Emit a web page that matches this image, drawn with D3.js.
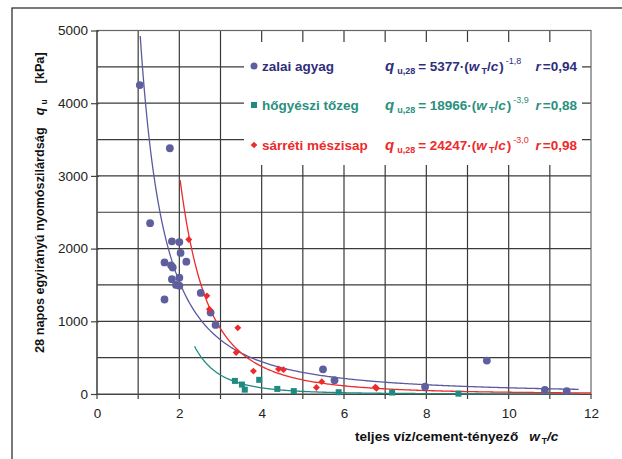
<!DOCTYPE html>
<html><head><meta charset="utf-8">
<script src="https://cdn.jsdelivr.net/npm/d3@7"></script>
<style>
body{margin:0;background:#fff;}
text{font-family:"Liberation Sans",Arial,sans-serif;}
</style></head>
<body><svg id="c" width="622" height="459"></svg>
<script>
// ---- data ----
const xTicks = [0,2,4,6,8,10,12];
const yTicks = [0,1000,2000,3000,4000,5000];
const zalaiX = [1.04,1.77,1.29,1.82,2.00,2.03,2.17,1.64,1.80,1.84,1.82,2.00,1.92,2.00,1.64,2.52,2.76,2.88,5.49,5.77,7.97,9.47,10.88,11.41];
const zalaiY = [4250,3380,2350,2100,2090,1940,1820,1810,1770,1740,1580,1600,1500,1490,1300,1390,1120,950,340,190,100,460,55,40];
const hogyX = [3.35,3.52,3.59,3.94,4.38,4.78,5.87,7.17,8.78];
const hogyY = [180,130,60,195,70,40,25,20,5];
const sarrX = [2.23,2.67,2.73,3.42,3.38,3.80,4.41,4.53,5.46,5.33,6.76,6.79];
const sarrY = [2125,1350,1165,910,570,315,345,335,170,90,92,78];
const seriesNames = ["zalai agyag","hőgyészi tőzeg","sárréti mészisap"];
const coefA = [5377,18966,24247];
const coefB = [-1.8,-3.9,-3.0];
const coefLabel = ["5377","18966","24247"];
const expLabel = ["-1,8","-3,9","-3,0"];
const rLabel = ["0,94","0,88","0,98"];
const curveFrom = [1.05,2.37,2.02];
const curveTo = [11.7,11.7,12];

const svg = d3.select("#c");
const x = d3.scaleLinear().domain([0,12]).range([97,591]);
const y = d3.scaleLinear().domain([0,5000]).range([394,30.5]);
const ptCol = ["#5f5f9e","#1f8a80","#ee2a2a"];
const lnCol = ["#5a5aa0","#1f8a80","#ee2a2a"];
const txtCol = ["#2e2e7c","#2a9080","#ee2a2a"];

// outer frame
svg.append("rect").attr("x",12).attr("y",8).attr("width",640).attr("height",480)
  .attr("fill","none").attr("stroke","#222").attr("stroke-width",1.2);

// grid
const g = svg.append("g");
g.selectAll(".vg").data(d3.range(1,12)).join("line")
  .attr("x1",d=>x(d)).attr("x2",d=>x(d)).attr("y1",y(0)+5).attr("y2",y(5000))
  .attr("stroke","#3a3a3a").attr("stroke-width",1.2);
g.selectAll(".hg").data(d3.range(500,5000,500)).join("line")
  .attr("x1",x(0)).attr("x2",x(12)).attr("y1",d=>y(d)).attr("y2",d=>y(d))
  .attr("stroke","#3a3a3a").attr("stroke-width",1.2);
g.selectAll(".xt").data([0,12]).join("line")
  .attr("x1",d=>x(d)).attr("x2",d=>x(d)).attr("y1",y(0)).attr("y2",y(0)+5)
  .attr("stroke","#444").attr("stroke-width",1.2);

// plot border
svg.append("rect").attr("x",x(0)).attr("y",y(5000)).attr("width",x(12)-x(0)).attr("height",y(0)-y(5000))
  .attr("fill","none").attr("stroke","#666").attr("stroke-width",1.2);

// axes
const xAxis = d3.axisBottom(x).tickValues(xTicks).tickSize(0).tickPadding(14).tickFormat(d3.format("d"));
const yAxis = d3.axisLeft(y).tickValues(yTicks).tickSize(8).tickPadding(3).tickFormat(d3.format("d"));
const ga = svg.append("g").attr("transform",`translate(0,${y(0)})`).call(xAxis);
ga.select(".domain").attr("stroke","#444").attr("stroke-width",1.2);
ga.selectAll("text").attr("font-size",13.5).attr("fill","#222").attr("font-family","Liberation Sans, Arial, sans-serif");
const gy = svg.append("g").attr("transform",`translate(${x(0)+2},0)`).call(yAxis);
gy.select(".domain").remove();
gy.selectAll("line").attr("stroke","#444").attr("stroke-width",1.2);
gy.selectAll("text").attr("font-size",13.5).attr("fill","#222").attr("font-family","Liberation Sans, Arial, sans-serif");
svg.append("line").attr("x1",x(0)).attr("x2",x(0)).attr("y1",y(0)).attr("y2",y(5000)).attr("stroke","#444").attr("stroke-width",1.2);

// legend white box
svg.append("rect").attr("x",244).attr("y",42).attr("width",338).attr("height",123).attr("fill","#fff");

// curves
const line = d3.line().x(d=>x(d[0])).y(d=>y(d[1])).curve(d3.curveLinear);
for(let i=0;i<3;i++){
  const pts = d3.range(0,301).map(k=>{const xv=curveFrom[i]+(curveTo[i]-curveFrom[i])*k/300; return [xv, coefA[i]*Math.pow(xv,coefB[i])];});
  svg.append("path").attr("d",line(pts)).attr("fill","none").attr("stroke",lnCol[i]).attr("stroke-width",1.3);
}

// points
svg.append("g").selectAll("circle").data(zalaiX.map((v,i)=>[v,zalaiY[i]])).join("circle")
  .attr("cx",d=>x(d[0])).attr("cy",d=>y(d[1])).attr("r",3.9).attr("fill",ptCol[0]);
svg.append("g").selectAll("rect").data(hogyX.map((v,i)=>[v,hogyY[i]])).join("rect")
  .attr("x",d=>x(d[0])-3).attr("y",d=>y(d[1])-3).attr("width",6).attr("height",6).attr("fill",ptCol[1]);
svg.append("g").selectAll("path").data(sarrX.map((v,i)=>[v,sarrY[i]])).join("path")
  .attr("d",d3.symbol(d3.symbolSquare,24)).attr("transform",d=>`translate(${x(d[0])},${y(d[1])}) rotate(45)`).attr("fill",ptCol[2]);

// legend
const rowY = [71,110,150];
const leg = svg.append("g").attr("font-weight","bold");
rowY.forEach((ry,i)=>{
  const mx=254, my=ry-5;
  if(i===0) leg.append("circle").attr("cx",mx).attr("cy",my).attr("r",3.5).attr("fill",ptCol[0]);
  if(i===1) leg.append("rect").attr("x",mx-3).attr("y",my-3).attr("width",6).attr("height",6).attr("fill",ptCol[1]);
  if(i===2) leg.append("path").attr("d",d3.symbol(d3.symbolSquare,22)).attr("transform",`translate(${mx},${my}) rotate(45)`).attr("fill",ptCol[2]);
  leg.append("text").attr("x",262).attr("y",ry).attr("font-size",13.5).attr("fill",txtCol[i]).text(seriesNames[i]);
  const t = leg.append("text").attr("x",385).attr("y",ry).attr("font-size",13.5).attr("fill",txtCol[i]);
  t.append("tspan").attr("font-style","italic").attr("font-size",15).text("q");
  t.append("tspan").attr("font-size",9).attr("dx",3).attr("dy",3).text("u,28");
  t.append("tspan").attr("dx",3).attr("dy",-3).text("= "+coefLabel[i]+"·(");
  t.append("tspan").attr("font-style","italic").text("w");
  t.append("tspan").attr("font-size",9).attr("dx",2).attr("dy",3).text("T");
  t.append("tspan").attr("dy",-3).text("/");
  t.append("tspan").attr("font-style","italic").text("c");
  t.append("tspan").attr("dx",1).text(")");
  t.append("tspan").attr("font-size",9).attr("dx",2).attr("dy",-7).attr("font-weight","normal").text(expLabel[i]);
  const r = leg.append("text").attr("x",577).attr("y",ry).attr("text-anchor","end").attr("font-size",13.5).attr("fill",txtCol[i]);
  r.append("tspan").attr("font-style","italic").text("r");
  r.append("tspan").attr("dx",2).text("=" + rLabel[i]);
});

// axis titles
const xt = svg.append("text").attr("x",355).attr("y",441).attr("font-size",13.6).attr("font-weight","bold").attr("fill","#111");
xt.append("tspan").text("teljes víz/cement-tényező");
xt.append("tspan").attr("dx",11).attr("font-style","italic").text("w");
xt.append("tspan").attr("font-size",8.5).attr("dx",2).attr("dy",3).text("T");
xt.append("tspan").attr("dy",-3).attr("font-style","italic").text("/c");

const yt = svg.append("text").attr("transform","translate(44,353) rotate(-90)").attr("text-anchor","start")
  .attr("font-size",12.7).attr("font-weight","bold").attr("fill","#111");
yt.append("tspan").text("28 napos egyirányú nyomószilárdság");
yt.append("tspan").attr("dx",12).attr("font-style","italic").text("q");
yt.append("tspan").attr("font-size",8.5).attr("dx",3).attr("dy",3).text("u");
yt.append("tspan").attr("dx",16).attr("dy",-3).text("[kPa]");
</script></body></html>
